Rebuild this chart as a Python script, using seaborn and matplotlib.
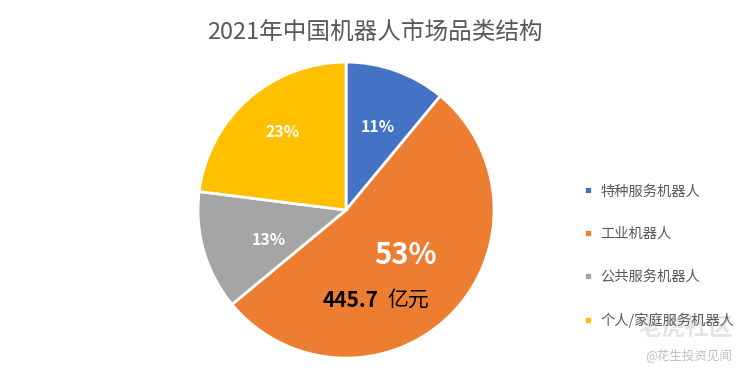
import numpy as np
import matplotlib
matplotlib.use("Agg")
import matplotlib.pyplot as plt
import seaborn as sns

categories = ["特种服务机器人", "工业机器人", "公共服务机器人", "个人/家庭服务机器人"]
shares = [11, 53, 13, 23]
pct_labels = ["11%", "53%", "13%", "23%"]
industrial_amount = "445.7"
industrial_unit = "亿元"

sns.set_theme(style="white")
plt.rcParams['font.family'] = ['Noto Sans CJK SC', 'DejaVu Sans']

colors = ["#4472C4", "#ED7D31", "#A5A5A5", "#FFC000"]

fig = plt.figure(figsize=(7.5, 3.73), dpi=100)
ax = fig.add_axes([0.264, 0.040, 0.3947, 0.7936])

wedges, _ = ax.pie(shares, colors=colors, startangle=90, counterclock=False,
                   wedgeprops=dict(edgecolor="white", linewidth=2))
ax.set_xlim(-1, 1)
ax.set_ylim(-1, 1)
ax.set_aspect("equal")

# label radius / angle tweak per slice
radii = [0.6, 0.5, 0.56, 0.68]
shifts = [-1, 8, 5, -2]
sizes = [11.5, 21, 11.5, 11.5]
for w, lab, r, s, fs in zip(wedges, pct_labels, radii, shifts, sizes):
    ang = np.deg2rad((w.theta1 + w.theta2) / 2 + s)
    ax.text(r * np.cos(ang), r * np.sin(ang), lab, ha="center", va="center",
            color="white", fontsize=fs, fontweight="bold")

# value note inside the industrial slice
w = wedges[1]
ang = np.deg2rad((w.theta1 + w.theta2) / 2 - 27)
nx, ny = 0.64 * np.cos(ang), 0.64 * np.sin(ang)
ax.text(nx + 0.02, ny, industrial_amount, ha="right", va="center",
        color="black", fontsize=15, fontweight="bold")
ax.text(nx + 0.08, ny, industrial_unit, ha="left", va="center",
        color="black", fontsize=15)

fig.text(0.5, 0.913, "2021年中国机器人市场品类结构", ha="center", va="center",
         fontsize=17, color="#595959")

leg = fig.legend(wedges, categories, loc="upper left", bbox_to_anchor=(0.762, 0.54),
                 frameon=False, fontsize=10.3, labelcolor="#595959",
                 handlelength=0.5, handleheight=0.5, handletextpad=0.6,
                 labelspacing=2.0)

# watermark
fig.text(0.915, 0.118, "老虎社区", ha="center", va="center", fontsize=17,
         color="#d9d9d9", fontweight="bold", alpha=0.7)
fig.text(0.918, 0.048, "@花生投资见闻", ha="center", va="center", fontsize=9,
         color="#bfbfbf")

fig.savefig("out.png", dpi=100)
